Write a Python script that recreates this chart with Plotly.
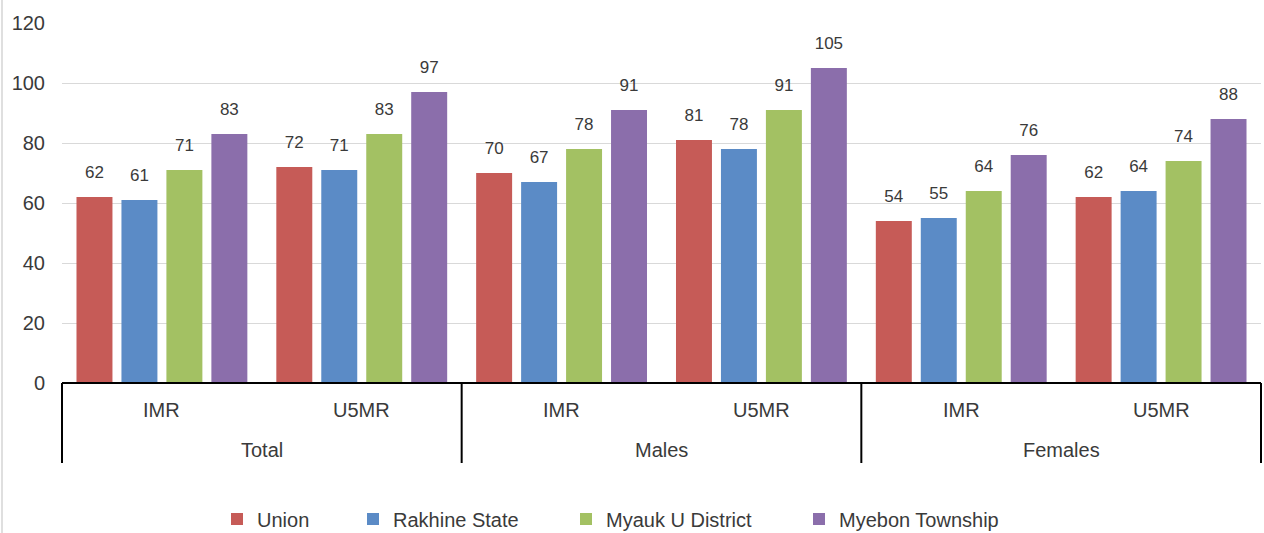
import plotly.graph_objects as go

groups = ["Total", "Males", "Females"]
measures = ["IMR", "U5MR"]
series_names = ["Union", "Rakhine State", "Myauk U District", "Myebon Township"]
colors = ["#C65B57", "#5B8BC6", "#A3C163", "#8B6EAB"]

union = [62, 72, 70, 81, 54, 62]
rakhine = [61, 71, 67, 78, 55, 64]
myauk = [71, 83, 78, 91, 64, 74]
myebon = [83, 97, 91, 105, 76, 88]
values = [union, rakhine, myauk, myebon]

y_ticks = [0, 20, 40, 60, 80, 100, 120]

categories = [f"{g} {m}" for g in groups for m in measures]
FONT = "Liberation Sans, Arial, sans-serif"
TXT = "#3a3a3a"

W, H = 1264, 533
ML, MR, MT, MB = 62, 3, 23, 150
PW = W - ML - MR
PH = H - MT - MB

def px_y(py):
    return (H - MB - py) / PH

fig = go.Figure()
legend_text_x = [254, 390, 603, 836]
for i, (name, vals, col) in enumerate(zip(series_names, values, colors)):
    lg = "legend" if i == 0 else f"legend{i+1}"
    fig.add_trace(go.Bar(
        x=categories, y=vals, name=name, marker=dict(color=col, line=dict(width=0)),
        legend=lg, hoverinfo="skip",
    ))
# data labels, grouped like the bars
for i, (name, vals) in enumerate(zip(series_names, values)):
    fig.add_trace(go.Scatter(
        x=categories, y=vals, mode="markers+text", text=[str(v) for v in vals],
        textposition="top center", marker=dict(size=22, opacity=0),
        textfont=dict(family=FONT, size=17, color=TXT),
        showlegend=False, hoverinfo="skip", cliponaxis=False,
    ))

layout_legends = {}
for i, tx in enumerate(legend_text_x):
    key = "legend" if i == 0 else f"legend{i+1}"
    layout_legends[key] = dict(
        xref="container", yref="container",
        x=(tx - 37) / W, y=1 - 519 / H, xanchor="left", yanchor="middle",
        orientation="h", font=dict(family=FONT, size=20, color=TXT),
        bgcolor="rgba(0,0,0,0)", borderwidth=0, itemclick=False,
    )

shapes = []
# category axis baseline
shapes.append(dict(type="line", xref="paper", yref="paper", x0=0, x1=1,
                   y0=0, y1=0, line=dict(color="black", width=2)))
# group separators
for k in range(len(groups) + 1):
    xs = k / len(groups)
    shapes.append(dict(type="line", xref="paper", yref="paper", x0=xs, x1=xs,
                       y0=0, y1=px_y(463), line=dict(color="black", width=2)))
# outer chart border (left)
shapes.append(dict(type="line", xref="paper", yref="paper", x0=(2 - ML) / PW, x1=(2 - ML) / PW,
                   y0=px_y(H), y1=px_y(0), line=dict(color="#BFBFBF", width=1)))

annotations = []
for c in categories:
    annotations.append(dict(x=c, y=px_y(410), xref="x", yref="paper", text=c.split(" ")[1],
                            showarrow=False, yanchor="middle",
                            font=dict(family=FONT, size=20, color=TXT)))
for gi, g in enumerate(groups):
    annotations.append(dict(x=gi * len(measures) + (len(measures) - 1) / 2, y=px_y(450),
                            xref="x", yref="paper", text=g, showarrow=False, yanchor="middle",
                            font=dict(family=FONT, size=20, color=TXT)))

fig.update_layout(
    width=W, height=H,
    margin=dict(l=ML, r=MR, t=MT, b=MB, autoexpand=False),
    paper_bgcolor="white", plot_bgcolor="white",
    barmode="group", bargap=0.1, bargroupgap=0.2,
    scattermode="group", scattergap=0.1,
    shapes=shapes, annotations=annotations,
    showlegend=True,
    **layout_legends,
)
fig.update_xaxes(showticklabels=False, showgrid=False, zeroline=False, showline=False,
                 range=[-0.5, len(categories) - 0.5])
fig.update_yaxes(range=[0, 120], tickvals=y_ticks, showgrid=True, gridcolor="#D9D9D9",
                 gridwidth=1, zeroline=False, showline=False, ticks="",
                 ticklabelstandoff=16,
                 tickfont=dict(family=FONT, size=20, color=TXT))

fig.write_html(
    "out.html",
    config={"displayModeBar": False},
    post_script="document.body.style.margin='0';document.body.style.overflow='hidden';",
)
